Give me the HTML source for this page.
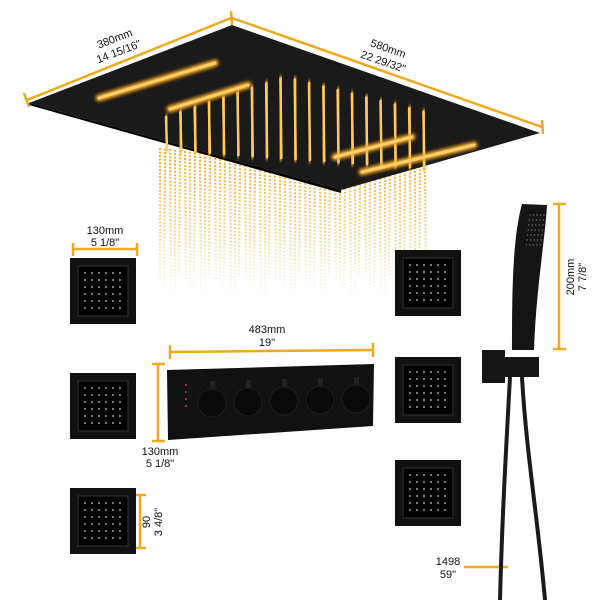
<!DOCTYPE html>
<html><head><meta charset="utf-8"><style>
html,body{margin:0;padding:0;background:#fff;}
svg{display:block;font-family:"Liberation Sans",sans-serif;}
</style></head><body>
<svg id="s" width="600" height="600" viewBox="0 0 600 600" xmlns="http://www.w3.org/2000/svg">
<defs>
<filter id="g" x="-50%" y="-50%" width="200%" height="200%"><feGaussianBlur stdDeviation="1.5"/></filter>
<linearGradient id="rg" gradientUnits="userSpaceOnUse" x1="0" y1="150" x2="0" y2="300">
<stop offset="0" stop-color="#e9ad2a" stop-opacity="0.95"/>
<stop offset="0.55" stop-color="#efbc50" stop-opacity="0.6"/>
<stop offset="1" stop-color="#f5d080" stop-opacity="0"/>
</linearGradient>
</defs>
<g id="rain" stroke="url(#rg)" stroke-width="2.2" stroke-dasharray="2 1.5"></g>
<polygon points="29,103 232,25 540,133 341,190" fill="#1a1a1a"/>
<polygon points="29,103 341,190 341,193 29,105" fill="#000"/>
<g id="leds"></g>
<g stroke="#f0a81c" stroke-width="2.5" fill="none">
<line x1="27" y1="100" x2="231" y2="18"/>
<line x1="24" y1="93" x2="29" y2="107"/>
<line x1="232" y1="18" x2="542" y2="127"/>
<line x1="231" y1="11" x2="232" y2="25"/>
<line x1="542" y1="120" x2="543" y2="134"/>
<line x1="73" y1="249" x2="137" y2="249"/><line x1="73" y1="243" x2="73" y2="256"/><line x1="137" y1="243" x2="137" y2="256"/>
<line x1="170" y1="352" x2="373" y2="350"/><line x1="170" y1="345" x2="170" y2="359"/><line x1="373" y1="343" x2="373" y2="357"/>
<line x1="158" y1="364" x2="158" y2="441"/><line x1="152" y1="364" x2="165" y2="364"/><line x1="152" y1="441" x2="165" y2="441"/>
<line x1="140" y1="495" x2="140" y2="548"/><line x1="134" y1="495" x2="146" y2="495"/><line x1="134" y1="548" x2="146" y2="548"/>
<line x1="559" y1="204" x2="559" y2="349"/><line x1="553" y1="204" x2="566" y2="204"/><line x1="553" y1="349" x2="566" y2="349"/>
<line x1="464" y1="567" x2="508" y2="567"/>
</g>
<g font-size="11" fill="#111">
<text transform="translate(116,42) rotate(-21)" text-anchor="middle">380mm</text>
<text transform="translate(120,55) rotate(-21)" text-anchor="middle">14 15/16"</text>
<text transform="translate(387,52) rotate(19)" text-anchor="middle">580mm</text>
<text transform="translate(382,65) rotate(19)" text-anchor="middle">22 29/32"</text>
<text x="105" y="234" text-anchor="middle">130mm</text>
<text x="105" y="246" text-anchor="middle">5 1/8"</text>
<text x="267" y="333" text-anchor="middle">483mm</text>
<text x="267" y="346" text-anchor="middle">19"</text>
<text x="160" y="455" text-anchor="middle">130mm</text>
<text x="160" y="467" text-anchor="middle">5 1/8"</text>
<text transform="translate(150,522) rotate(-90)" text-anchor="middle">90</text>
<text transform="translate(162,522) rotate(-90)" text-anchor="middle">3 4/8"</text>
<text transform="translate(574,277) rotate(-90)" text-anchor="middle">200mm</text>
<text transform="translate(586,277) rotate(-90)" text-anchor="middle">7 7/8"</text>
<text x="448" y="565" text-anchor="middle">1498</text>
<text x="448" y="578" text-anchor="middle">59"</text>
</g>
<g id="jets"></g>
<polygon points="167,370 374,364 373,426 168,440" fill="#111"/>
<g id="knobs"></g>
<g fill="#151515">
<path d="M522,204 L547,205 C545,240 536,290 534,350 L512,350 C512,300 512,240 522,204 Z"/>
<rect x="482" y="350" width="23" height="33"/>
<rect x="503" y="357" width="36" height="20"/>
</g>
<g id="hd"></g>
<g stroke="#1a1a1a" stroke-width="4" fill="none">
<path d="M510,377 C506,450 502,520 500,600"/>
<path d="M522,377 C526,450 538,520 545,600"/>
</g>
</svg>
<script>
var ns="http://www.w3.org/2000/svg";
function el(p,t,a){var e=document.createElementNS(ns,t);for(var k in a)e.setAttribute(k,a[k]);p.appendChild(e);return e;}
var rain=document.getElementById('rain');
for(var x=160;x<428;x+=5){var yt=148+(x-160)*0.12;if(x>340)yt=190-(x-340)*0.3;el(rain,'line',{x1:x,y1:yt,x2:x+(x%3)-1,y2:275+((x*7)%30)});}
var leds=document.getElementById('leds');
for(var i=0;i<19;i++){var x=166+i*14.3;var yt=x<285?117-(x-166)*0.336:77+(x-285)*0.252;var yb=150+(x-166)*0.07;
 el(leds,'line',{x1:x,y1:yt,x2:x+1,y2:yb,stroke:'#f5a623','stroke-width':6,'stroke-linecap':'round',filter:'url(#g)'});
 el(leds,'line',{x1:x,y1:yt,x2:x+1,y2:yb,stroke:'#ffc860','stroke-width':2.5,'stroke-linecap':'round'});}
[[99,98,215,63],[170,109,248,85],[335,157,412,137],[362,172,474,145]].forEach(function(b){
 el(leds,'line',{x1:b[0],y1:b[1],x2:b[2],y2:b[3],stroke:'#f5a623','stroke-width':7,'stroke-linecap':'round',filter:'url(#g)'});
 el(leds,'line',{x1:b[0],y1:b[1],x2:b[2],y2:b[3],stroke:'#ffd070','stroke-width':3,'stroke-linecap':'round'});});
var jets=document.getElementById('jets');
[[70,258],[70,373],[70,488],[395,250],[395,357],[395,460]].forEach(function(j){
 el(jets,'rect',{x:j[0],y:j[1],width:66,height:66,fill:'#111'});
 el(jets,'rect',{x:j[0]+8,y:j[1]+8,width:50,height:50,fill:'#000',stroke:'#333','stroke-width':1});
 for(var r=0;r<6;r++)for(var c=0;c<6;c++)el(jets,'circle',{cx:j[0]+15+c*7,cy:j[1]+15+r*7,r:0.9,fill:'#ccc'});});
var hd=document.getElementById('hd');
for(var r=0;r<7;r++)for(var c=0;c<5;c++)el(hd,'circle',{cx:530+c*3.5-r*0.6,cy:215+r*5,r:0.7,fill:'#777'});
var kn=document.getElementById('knobs');
for(var i=0;i<5;i++){var cx=212+i*36,cy=403-i*1;
 el(kn,'rect',{x:cx-2,y:cy-22,width:5,height:8,fill:'#222'});
 el(kn,'circle',{cx:cx,cy:cy,r:14,fill:'#0a0a0a',stroke:'#1e1e1e'});}
for(var r=0;r<4;r++)el(kn,'circle',{cx:186,cy:385+r*7,r:1,fill:'#c33'});
</script>
</body></html>
